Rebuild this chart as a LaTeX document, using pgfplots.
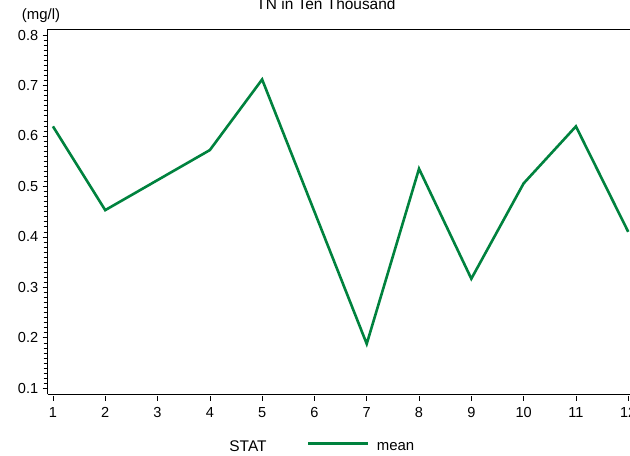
\documentclass[border=0pt]{standalone}
\usepackage{pgfplots}
\pgfplotsset{compat=1.18}
\usepackage{fontspec}
\setmainfont{Liberation Sans}
\definecolor{lgreen}{RGB}{0,130,62}
\begin{document}
\begin{tikzpicture}
\begin{axis}[
  at={(47.7bp,61.7bp)}, anchor=south west,
  scale only axis, width=582.3bp, height=365.3bp,
  xmin=0.9, xmax=12.034, ymin=0.088, ymax=0.812,
  axis x line*=bottom, axis y line*=left,
  axis line style={-, line width=0.9pt},
  xtick={1,...,12},
  ytick={0.1,0.2,...,0.8},
  minor y tick num=9,
  tick align=outside,
  major tick length=5bp, minor tick length=4bp,
  tick style={black, line width=0.6pt},
  xtick style={yshift=-1.5bp},
  /pgf/number format/assume math mode=true,
  /pgf/number format/fixed, /pgf/number format/precision=1,
  yticklabel={\pgfmathprintnumber[fixed zerofill]{\tick}},
  ticklabel style={font=\fontsize{14.6}{16}\selectfont},
  xticklabel style={yshift=-5bp},
  yticklabel style={xshift=-1bp},
  clip=false,
  legend style={draw=none, fill=none, at={(rel axis cs:0.4445,-0.146)}, anchor=west, inner sep=0pt,
    font=\fontsize{15}{17}\selectfont,
    /tikz/every odd column/.append style={column sep=6bp}},
  legend image code/.code={\draw[#1] (0bp,4bp) -- (59.5bp,4bp);},
]
\addplot[lgreen, line width=2.6bp] coordinates {
(1,0.619) (2,0.453) (4,0.572) (5,0.712) (7,0.188) (8,0.535) (9,0.317) (10,0.506) (11,0.619) (12,0.410)
};
\addlegendentry{mean}
\draw[line width=0.9pt] (rel axis cs:0,1) -- (rel axis cs:1,1);
\end{axis}
\node[anchor=base, font=\fontsize{15.5}{17}\selectfont] at (326bp,446.3bp) {TN in Ten Thousand};
\node[anchor=base, font=\fontsize{15}{17}\selectfont] at (41bp,436bp) {(mg/l)};
\node[anchor=base, font=\fontsize{15.5}{17}\selectfont] at (248bp,5bp) {STAT};
\pgfresetboundingbox
\useasboundingbox (0bp,0bp) rectangle (630bp,456bp);
\end{tikzpicture}
\end{document}
